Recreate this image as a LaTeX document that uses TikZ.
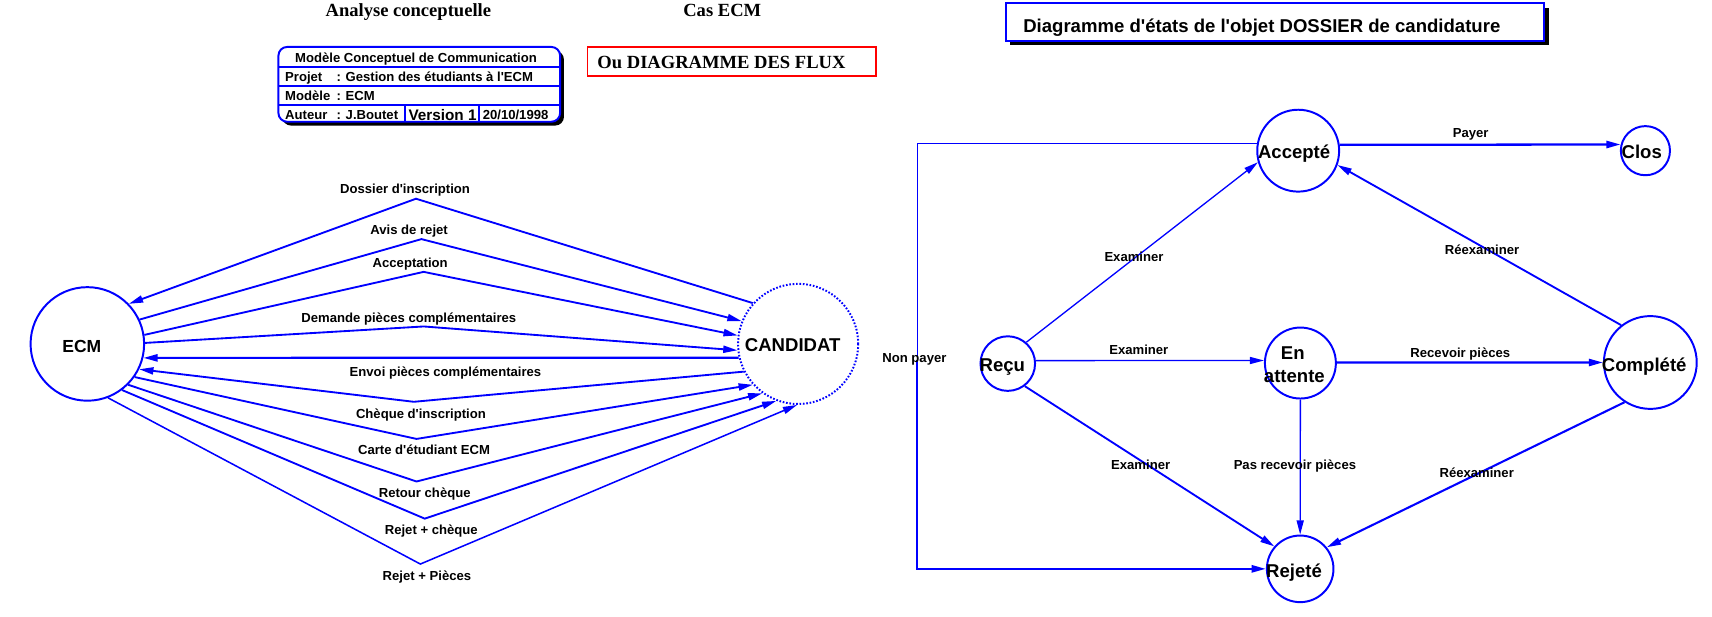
\documentclass[tikz,border=0pt]{standalone}
\usepackage{fontspec}
\setmainfont{Liberation Serif}
\newfontfamily\arial{Liberation Sans}
\usetikzlibrary{arrows.meta}
\definecolor{fblue}{RGB}{0,0,255}
\definecolor{fred}{RGB}{255,0,0}
\tikzset{
  lbl/.style={font=\arial\bfseries\fontsize{12}{14}\selectfont, inner sep=0pt, text height=8.6pt, text depth=0pt},
  boxtxt/.style={font=\arial\bfseries\fontsize{12}{14}\selectfont, inner sep=0pt, text height=8.6pt, text depth=0pt, anchor=west},
  stname/.style={font=\arial\bfseries\fontsize{17}{20}\selectfont, inner sep=0pt, text height=12.2pt, text depth=0pt},
  sertitle/.style={font=\bfseries\fontsize{17}{20}\selectfont, inner sep=0pt, text height=11.4pt, text depth=0pt},
  stcirc/.style={circle, draw=fblue, line width=1.8pt, inner sep=0pt},
  flow/.style={draw=fblue, line width=1.7pt},
  thinflow/.style={draw=fblue, line width=1.2pt},
  thickflow/.style={draw=fblue, line width=2.1pt},
  arr/.style={-{Triangle[length=13pt,width=6.5pt]}},
}
\begin{document}
\begin{tikzpicture}[x=1pt,y=-1pt]
\useasboundingbox (0,0) rectangle (1568,564.2);
\fill[white] (0,0) rectangle (1568,564.2);

% ---------- top titles ----------
\node[sertitle] (t1) at (374,9.5) {Analyse conceptuelle};
\node[sertitle] (t2) at (661.5,9.5) {Cas ECM};

% ---------- Modele box ----------
\fill[black, rounded corners=8pt] (258.5,46.5) rectangle (516.5,115);
\filldraw[fill=white, draw=fblue, line width=1.8pt, rounded corners=8pt] (255,43) rectangle (513,111.5);
\draw[fblue, line width=1.8pt] (255,61) -- (513,61);
\draw[fblue, line width=1.8pt] (255,78.5) -- (513,78.5);
\draw[fblue, line width=1.8pt] (255,96) -- (513,96);
\draw[fblue, line width=1.8pt] (370.6,96) -- (370.6,111.5);
\draw[fblue, line width=1.8pt] (439,96) -- (439,111.5);
\node[lbl] (mh) at (381,52.5) {Modèle Conceptuel de Communication};
\node[boxtxt] (mp1) at (261,70) {Projet};
\node[boxtxt] (mp2) at (308,70) {: Gestion des étudiants à l'ECM};
\node[boxtxt] (mm1) at (261,87.6) {Modèle};
\node[boxtxt] (mm2) at (308,87.6) {: ECM};
\node[boxtxt] (ma1) at (261,105) {Auteur};
\node[boxtxt] (ma2) at (308,105) {: J.Boutet};
\node[boxtxt, font=\arial\bfseries\fontsize{14}{16}\selectfont, text height=10pt] (ma3) at (374,105) {Version 1};
\node[boxtxt] (ma4) at (442,105) {20/10/1998};

% ---------- red box ----------
\draw[fred, line width=1.6pt] (538,43) rectangle (802,69.3);
\node[sertitle, anchor=west] (flux) at (547,57) {Ou DIAGRAMME DES FLUX};

% ---------- left diagram ----------
\node[circle, draw=fblue, line width=1.8pt, minimum size=104pt, inner sep=0pt] (ecm) at (80,315) {};
\node[circle, draw=fblue, line width=1.8pt, dash pattern=on 1.5pt off 1.6pt, minimum size=110pt, inner sep=0pt] (cand) at (731,315) {};
\node[font=\arial\bfseries\fontsize{16}{19}\selectfont, inner sep=0pt, text height=11.5pt, text depth=0pt] (ecmt) at (75,317.5) {ECM};
\node[stname] (candt) at (726,316) {CANDIDAT};

\coordinate (p1) at (381,182);
\coordinate (p2) at (386,219);
\coordinate (p3) at (388,249);
\coordinate (p4) at (388,299);
\coordinate (p6) at (379,368);
\coordinate (p7) at (381.5,402);
\coordinate (p8) at (381.5,441);
\coordinate (p9) at (389,475);
\coordinate (p10) at (385,516.6);

\draw[flow, arr] (cand.138.7) -- (p1) -- (ecm.44.2);
\draw[flow, arr] (ecm.25.6) -- (p2) -- (cand.158.2);
\draw[flow, arr] (ecm.9.6) -- (p3) -- (cand.172.5);
\draw[flow, arr] (ecm.1) -- (p4) -- (cand.186.3);
\draw[flow, line width=2pt, arr] (cand.193.67) -- (ecm.-14.48);
\draw[flow, arr] (cand.207) -- (p6) -- (ecm.-26.6);
\draw[flow, arr] (ecm.-35.2) -- (p7) -- (cand.222);
\draw[flow, arr] (ecm.-45) -- (p8) -- (cand.234.6);
\draw[flow, arr] (ecm.-53.1) -- (p9) -- (cand.249.7);
\draw[flow, line width=1.4pt, arr] (ecm.-69.6) -- (p10) -- (cand.269);

\node[lbl] (l1) at (371,172.5) {Dossier d'inscription};
\node[lbl] (l2) at (374.7,210.7) {Avis de rejet};
\node[lbl] (l3) at (375.7,240.3) {Acceptation};
\node[lbl] (l4) at (374.5,290.7) {Demande pièces complémentaires};
\node[lbl] (l5) at (408,340.5) {Envoi pièces complémentaires};
\node[lbl] (l6) at (385.5,378.6) {Chèque d'inscription};
\node[lbl] (l7) at (388.4,412) {Carte d'étudiant ECM};
\node[lbl] (l8) at (389,451) {Retour chèque};
\node[lbl] (l9) at (395,485) {Rejet + chèque};
\node[lbl] (l10) at (391,527) {Rejet + Pièces};

% ---------- right title ----------
\fill[black] (925,7) rectangle (1418.3,41.3);
\filldraw[fill=white, draw=fblue, line width=1.8pt] (921,3) rectangle (1414.3,37.3);
\node[stname, anchor=west] (rtitle) at (937,23.5) {Diagramme d'états de l'objet DOSSIER de candidature};

% ---------- states ----------
\node[stcirc, minimum size=75pt] (acc) at (1189,138) {};
\node[stcirc, minimum size=45pt] (clos) at (1507,138) {};
\node[stcirc, minimum size=50pt] (recu) at (923,333) {};
\node[stcirc, minimum size=65pt] (enatt) at (1191,332.5) {};
\node[stcirc, minimum size=85pt] (compl) at (1511.5,332) {};
\node[stcirc, minimum size=61pt] (rej) at (1190.8,521) {};

\node[stname, anchor=west] (acct) at (1152,139.5) {Accepté};
\node[stname, anchor=west] (clost) at (1485,139.3) {Clos};
\node[stname, anchor=west] (recut) at (897,334.3) {Reçu};
\node[stname] (enattt1) at (1184,323.6) {En};
\node[stname] (enattt2) at (1185.5,344.4) {attente};
\node[stname, anchor=west] (complt) at (1467,334.3) {Complété};
\node[stname, anchor=west] (rejt) at (1159.5,522.7) {Rejeté};

% ---------- transitions ----------
\coordinate (npc) at (840,330);
\draw[thinflow] (acc.170.8) -| (npc);
\draw[thickflow, arr] (npc) |- (rej.west);
\draw[thickflow, arr] (acc.8) -- (clos.166.6);
\draw[thinflow, arr] (recu.49) -- (acc.196);
\draw[thinflow, arr] (recu.6) -- (enatt.176.3);
\draw[thickflow, arr] (enatt.1) -- (compl.180);
\draw[flow, arr] (compl.128.7) -- (acc.-20);
\draw[flow, arr] (recu.-53.7) -- (rej.139);
\draw[thinflow, arr] (enatt.south) -- (rej.north);
\draw[flow, line width=1.9pt, arr] (compl.237) -- (rej.39.3);

\node[lbl] (rl1) at (1347,122) {Payer};
\node[lbl] (rl2) at (1038.6,235) {Examiner};
\node[lbl] (rl3) at (1043,320) {Examiner};
\node[lbl] (rl4) at (1337.5,322.7) {Recevoir pièces};
\node[lbl] (rl5) at (1357.4,228.4) {Réexaminer};
\node[lbl] (rl6) at (1044.7,425.3) {Examiner};
\node[lbl] (rl7) at (1186,425.3) {Pas recevoir pièces};
\node[lbl] (rl8) at (1352.5,432.7) {Réexaminer};
\node[lbl] (rl9) at (837.5,327.6) {Non payer};
\end{tikzpicture}
\end{document}
